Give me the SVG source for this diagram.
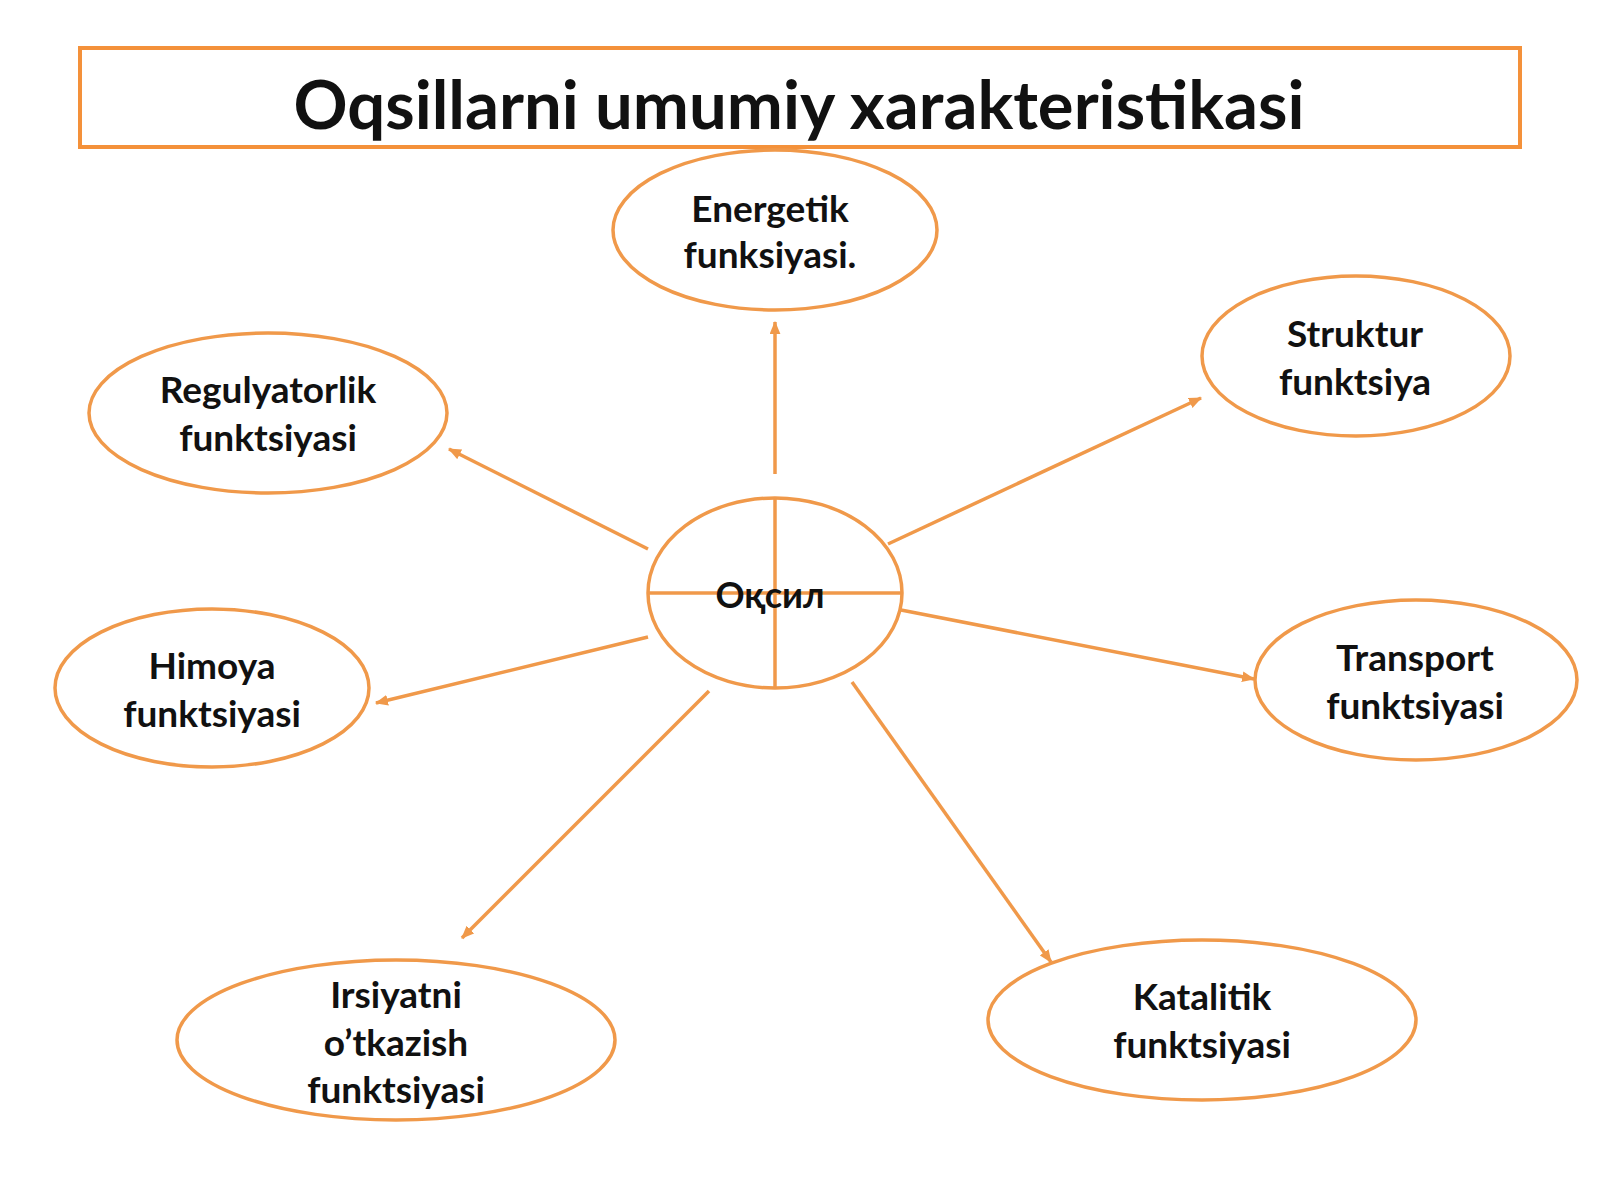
<svg xmlns="http://www.w3.org/2000/svg" width="1600" height="1200" viewBox="0 0 1600 1200">
<style>
.node ellipse{fill:#fff;stroke:#F0994A;stroke-width:3.5}
.lbl{font-family:Lato,"Liberation Sans","DejaVu Sans",sans-serif;font-weight:bold;font-size:37px;fill:#111;text-anchor:middle}
.conn line{stroke:#F0994A;stroke-width:3.5}
</style>
<defs>
<marker id="ah" viewBox="0 0 12 10" refX="11" refY="5" markerWidth="13" markerHeight="11" markerUnits="userSpaceOnUse" orient="auto">
<path d="M0,0 L12,5 L0,10 Z" fill="#F0994A"/>
</marker>
</defs>
<rect width="1600" height="1200" fill="#fff"/>
<g id="title">
<rect x="80" y="48" width="1440" height="99" fill="#fff" stroke="#F4913A" stroke-width="4"/>
<text x="799" y="129" style="font-family:Lato,'Liberation Sans',sans-serif;font-weight:bold;font-size:67px;fill:#111;text-anchor:middle">Oqsillarni umumiy xarakteristikasi</text>
</g>
<g class="conn" id="connectors">
<line x1="775" y1="474" x2="775" y2="322" marker-end="url(#ah)"/>
<line x1="648" y1="549" x2="449" y2="449" marker-end="url(#ah)"/>
<line x1="648" y1="637" x2="376" y2="703" marker-end="url(#ah)"/>
<line x1="888" y1="544" x2="1201" y2="398" marker-end="url(#ah)"/>
<line x1="901" y1="610" x2="1254" y2="679" marker-end="url(#ah)"/>
<line x1="709" y1="691" x2="462" y2="938" marker-end="url(#ah)"/>
<line x1="852" y1="682" x2="1051" y2="962" marker-end="url(#ah)"/>
</g>
<g class="node" id="center">
<ellipse cx="775" cy="593" rx="127" ry="95"/>
<line x1="648" y1="593" x2="902" y2="593" stroke="#F0994A" stroke-width="3.5"/>
<line x1="775" y1="498" x2="775" y2="688" stroke="#F0994A" stroke-width="3.5"/>
<text class="lbl" x="770" y="608" style="font-size:36px">Оқсил</text>
</g>
<g class="node" id="energetik">
<ellipse cx="775" cy="230" rx="162" ry="80"/>
<text class="lbl" x="770" y="222">Energetik</text>
<text class="lbl" x="770" y="268">funksiyasi.</text>
</g>
<g class="node" id="struktur">
<ellipse cx="1356" cy="356" rx="154" ry="80"/>
<text class="lbl" x="1355" y="347">Struktur</text>
<text class="lbl" x="1355" y="395">funktsiya</text>
</g>
<g class="node" id="regulyatorlik">
<ellipse cx="268" cy="413" rx="179" ry="80"/>
<text class="lbl" x="268" y="403">Regulyatorlik</text>
<text class="lbl" x="268" y="451">funktsiyasi</text>
</g>
<g class="node" id="himoya">
<ellipse cx="212" cy="688" rx="157" ry="79"/>
<text class="lbl" x="212" y="679">Himoya</text>
<text class="lbl" x="212" y="727">funktsiyasi</text>
</g>
<g class="node" id="transport">
<ellipse cx="1416" cy="680" rx="161" ry="80"/>
<text class="lbl" x="1415" y="671">Transport</text>
<text class="lbl" x="1415" y="719">funktsiyasi</text>
</g>
<g class="node" id="irsiyatni">
<ellipse cx="396" cy="1040" rx="219" ry="80"/>
<text class="lbl" x="396" y="1008">Irsiyatni</text>
<text class="lbl" x="396" y="1056">o’tkazish</text>
<text class="lbl" x="396" y="1103">funktsiyasi</text>
</g>
<g class="node" id="katalitik">
<ellipse cx="1202" cy="1020" rx="214" ry="80"/>
<text class="lbl" x="1202" y="1010">Katalitik</text>
<text class="lbl" x="1202" y="1058">funktsiyasi</text>
</g>
</svg>
